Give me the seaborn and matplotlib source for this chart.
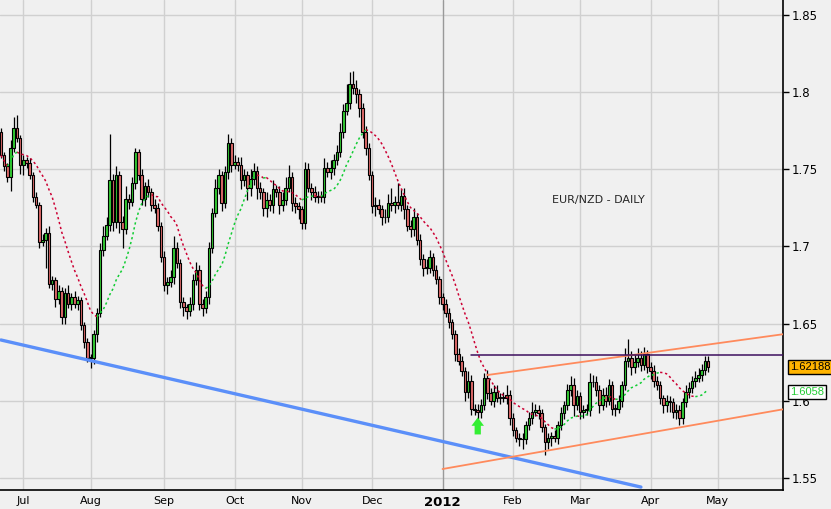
import numpy as np
import pandas as pd
import matplotlib.pyplot as plt
import matplotlib.transforms as mtransforms
from matplotlib.ticker import FixedLocator, FuncFormatter
import seaborn as sns

# ---- data (EUR/NZD daily, weekdays from 2011-06-22) ----
start_date = "2011-06-22"
axis_end_date = "2012-05-31"
first_open = 1.774

closes = [
    1.759, 1.752, 1.745, 1.764, 1.777, 1.770, 1.753, 1.756, 1.754, 1.746,
    1.732, 1.727, 1.703, 1.704, 1.709, 1.676, 1.678, 1.666, 1.671, 1.654,
    1.670, 1.663, 1.667, 1.663, 1.665, 1.649, 1.638, 1.628, 1.628, 1.643,
    1.657, 1.698, 1.707, 1.714, 1.743, 1.716, 1.746, 1.716, 1.711, 1.731,
    1.729, 1.741, 1.761, 1.746, 1.731, 1.739, 1.735, 1.727, 1.725, 1.713,
    1.693, 1.675, 1.677, 1.680, 1.699, 1.689, 1.664, 1.661, 1.658, 1.663,
    1.678, 1.685, 1.663, 1.660, 1.667, 1.699, 1.722, 1.738, 1.746, 1.728,
    1.748, 1.767, 1.753, 1.755, 1.753, 1.743, 1.746, 1.738, 1.744, 1.749,
    1.738, 1.735, 1.725, 1.730, 1.727, 1.737, 1.735, 1.727, 1.730, 1.738,
    1.745, 1.728, 1.726, 1.724, 1.715, 1.750, 1.738, 1.735, 1.732, 1.733,
    1.732, 1.751, 1.748, 1.751, 1.756, 1.761, 1.774, 1.788, 1.793, 1.805,
    1.803, 1.799, 1.790, 1.774, 1.764, 1.746, 1.726, 1.727, 1.724, 1.719,
    1.719, 1.728, 1.727, 1.729, 1.727, 1.733, 1.724, 1.713, 1.711, 1.719,
    1.704, 1.692, 1.686, 1.686, 1.693, 1.685, 1.679, 1.667, 1.663, 1.657,
    1.651, 1.643, 1.630, 1.626, 1.619, 1.606, 1.613, 1.595, 1.594, 1.593,
    1.597, 1.615, 1.605, 1.600, 1.606, 1.602, 1.602, 1.602, 1.604, 1.589,
    1.581, 1.576, 1.575, 1.575, 1.584, 1.589, 1.593, 1.594, 1.592, 1.583,
    1.573, 1.576, 1.577, 1.576, 1.584, 1.592, 1.597, 1.607, 1.610, 1.597,
    1.603, 1.593, 1.594, 1.594, 1.612, 1.612, 1.607, 1.597, 1.604, 1.600,
    1.610, 1.595, 1.595, 1.600, 1.610, 1.626, 1.628, 1.622, 1.625, 1.628,
    1.623, 1.630, 1.622, 1.619, 1.613, 1.610, 1.602, 1.597, 1.600, 1.599,
    1.593, 1.594, 1.589, 1.599, 1.606, 1.608, 1.613, 1.615, 1.617, 1.620,
    1.626, 1.62188,
]

upper_wicks = [
    0.003, 0.002, 0.002, 0.005, 0.007, 0.008, 0.002, 0.003, 0.002, 0.003,
    0.002, 0.003, 0.002, 0.004, 0.003, 0.004, 0.003, 0.002, 0.004, 0.003,
    0.003, 0.005, 0.003, 0.004, 0.003, 0.002, 0.002, 0.003, 0.002, 0.003,
    0.003, 0.004, 0.006, 0.005, 0.030, 0.004, 0.006, 0.003, 0.004, 0.008,
    0.003, 0.004, 0.003, 0.002, 0.004, 0.003, 0.005, 0.003, 0.004, 0.003,
    0.003, 0.004, 0.003, 0.005, 0.008, 0.004, 0.003, 0.003, 0.002, 0.004,
    0.004, 0.005, 0.003, 0.003, 0.004, 0.004, 0.003, 0.006, 0.004, 0.003,
    0.004, 0.006, 0.003, 0.004, 0.003, 0.005, 0.004, 0.003, 0.006, 0.005,
    0.003, 0.004, 0.003, 0.005, 0.004, 0.006, 0.003, 0.004, 0.005, 0.007,
    0.008, 0.003, 0.004, 0.003, 0.002, 0.005, 0.004, 0.003, 0.004, 0.003,
    0.003, 0.006, 0.004, 0.005, 0.004, 0.005, 0.006, 0.004, 0.012, 0.008,
    0.009, 0.005, 0.003, 0.003, 0.004, 0.003, 0.003, 0.005, 0.004, 0.003,
    0.005, 0.006, 0.010, 0.004, 0.012, 0.004, 0.005, 0.003, 0.004, 0.006,
    0.003, 0.004, 0.003, 0.006, 0.005, 0.003, 0.003, 0.002, 0.003, 0.003,
    0.003, 0.002, 0.003, 0.004, 0.003, 0.003, 0.006, 0.004, 0.003, 0.004,
    0.004, 0.003, 0.005, 0.003, 0.004, 0.004, 0.003, 0.004, 0.006, 0.003,
    0.003, 0.002, 0.003, 0.004, 0.003, 0.004, 0.006, 0.004, 0.003, 0.003,
    0.002, 0.003, 0.003, 0.004, 0.003, 0.004, 0.003, 0.004, 0.006, 0.005,
    0.004, 0.003, 0.003, 0.004, 0.006, 0.005, 0.004, 0.003, 0.004, 0.005,
    0.004, 0.003, 0.003, 0.004, 0.003, 0.008, 0.012, 0.004, 0.005, 0.006,
    0.004, 0.005, 0.003, 0.003, 0.004, 0.003, 0.003, 0.002, 0.004, 0.003,
    0.003, 0.004, 0.003, 0.003, 0.004, 0.004, 0.003, 0.004, 0.004, 0.004,
    0.003, 0.003,
]

lower_wicks = [
    0.002, 0.003, 0.003, 0.009, 0.003, 0.002, 0.006, 0.007, 0.003, 0.002,
    0.003, 0.002, 0.004, 0.003, 0.018, 0.003, 0.004, 0.005, 0.003, 0.004,
    0.004, 0.003, 0.004, 0.003, 0.004, 0.003, 0.004, 0.003, 0.007, 0.004,
    0.005, 0.003, 0.004, 0.003, 0.004, 0.006, 0.004, 0.007, 0.012, 0.003,
    0.005, 0.003, 0.004, 0.003, 0.004, 0.005, 0.003, 0.004, 0.003, 0.003,
    0.003, 0.004, 0.006, 0.003, 0.004, 0.003, 0.004, 0.006, 0.005, 0.003,
    0.004, 0.003, 0.004, 0.005, 0.003, 0.004, 0.003, 0.003, 0.004, 0.005,
    0.003, 0.004, 0.005, 0.003, 0.004, 0.006, 0.004, 0.008, 0.005, 0.004,
    0.007, 0.004, 0.005, 0.006, 0.004, 0.005, 0.003, 0.006, 0.004, 0.003,
    0.003, 0.005, 0.004, 0.006, 0.004, 0.004, 0.003, 0.005, 0.003, 0.004,
    0.003, 0.004, 0.003, 0.004, 0.005, 0.003, 0.003, 0.004, 0.003, 0.004,
    0.004, 0.006, 0.006, 0.004, 0.005, 0.003, 0.004, 0.006, 0.003, 0.005,
    0.004, 0.003, 0.004, 0.005, 0.003, 0.004, 0.006, 0.003, 0.005, 0.004,
    0.003, 0.004, 0.005, 0.004, 0.003, 0.004, 0.003, 0.004, 0.004, 0.003,
    0.004, 0.003, 0.004, 0.003, 0.003, 0.006, 0.004, 0.004, 0.003, 0.005,
    0.004, 0.003, 0.004, 0.003, 0.004, 0.003, 0.004, 0.003, 0.004, 0.005,
    0.004, 0.003, 0.004, 0.006, 0.003, 0.003, 0.004, 0.003, 0.004, 0.003,
    0.008, 0.004, 0.005, 0.003, 0.004, 0.003, 0.004, 0.003, 0.004, 0.007,
    0.003, 0.005, 0.004, 0.003, 0.004, 0.003, 0.004, 0.005, 0.003, 0.004,
    0.003, 0.004, 0.005, 0.003, 0.004, 0.003, 0.004, 0.005, 0.004, 0.003,
    0.004, 0.003, 0.004, 0.005, 0.004, 0.003, 0.004, 0.005, 0.004, 0.006,
    0.004, 0.005, 0.005, 0.004, 0.003, 0.004, 0.003, 0.004, 0.003, 0.004,
    0.003, 0.003,
]

ma_period = 14
last_price_text = "1.62188"
ma_text = "1.6058"
ma_last = 1.6058
chart_title = "EUR/NZD - DAILY"

# hand drawn lines on the chart (dates, prices)
support_dates = ["2011-06-22", "2012-03-28"]
support_prices = [1.6394, 1.5441]
channel_top_dates = ["2012-01-20", "2012-05-30"]
channel_top_prices = [1.6167, 1.6433]
channel_low_dates = ["2012-01-02", "2012-05-30"]
channel_low_prices = [1.5558, 1.5947]
resistance_dates = ["2012-01-13", "2012-05-30"]
resistance_price = 1.6297
arrow_date = "2012-01-17"
arrow_prices = [1.5782, 1.5892]

price_ticks = [1.55, 1.6, 1.65, 1.7, 1.75, 1.8, 1.85]

# ---- build frame ----
days = pd.bdate_range(start_date, axis_end_date)
pos = {d: i for i, d in enumerate(days)}
n = len(closes)
df = pd.DataFrame({"date": days[:n], "close": closes})
df["x"] = np.arange(n)
df["open"] = [first_open] + closes[:-1]
df["high"] = df[["open", "close"]].max(axis=1) + upper_wicks
df["low"] = df[["open", "close"]].min(axis=1) - lower_wicks
df["ma"] = df["close"].rolling(ma_period, min_periods=1).mean()


def xpos(dates):
    return [pos[pd.Timestamp(d)] for d in dates]


sns.set_style("white")
plt.rcParams["font.family"] = ["Liberation Sans Narrow", "DejaVu Sans"]
bg = "#f0f0f0"

fig = plt.figure(figsize=(8.31, 5.09), dpi=100, facecolor=bg)
ax = fig.add_axes([0, 19 / 509, 783 / 831, 490 / 509])
ax.set_facecolor(bg)

# month ticks
day_idx = pd.Series(np.arange(len(days)), index=days)
month_pos, month_lab = [], []
for (yr, mo), grp in day_idx.groupby([days.year, days.month]):
    if grp.index[0].day > 5:
        continue
    month_pos.append(grp.iloc[0])
    month_lab.append(str(yr) if mo == 1 else grp.index[0].strftime("%b"))

for p in price_ticks:
    ax.axhline(p, color="#d0d0d0", lw=1.0, zorder=0)
for mp, ml in zip(month_pos, month_lab):
    ax.axvline(mp, color="#999999" if ml == "2012" else "#d0d0d0", lw=1.0, zorder=0)

# candles
up = df["close"] >= df["open"]
colors = np.where(up, "#33cc33", "#e06a6a")
ax.vlines(df["x"], df["low"], df["high"], color="black", lw=0.9, zorder=3)
ax.bar(df["x"], (df["close"] - df["open"]).abs().clip(lower=0.0004),
       bottom=df[["open", "close"]].min(axis=1), width=0.82,
       color=colors, edgecolor="black", linewidth=0.8, zorder=4)

# moving average, green when rising, red when falling
ma = df["ma"].values
rising = np.r_[True, np.diff(ma) >= 0]
ma_up = np.where(rising | np.r_[rising[1:], True], ma, np.nan)
ma_dn = np.where(~rising | np.r_[~rising[1:], False], ma, np.nan)
ax.plot(df["x"], ma_dn, color="#cc0033", lw=1.1, ls=(0, (1.5, 1.8)), zorder=5)
ax.plot(df["x"], ma_up, color="#11cc33", lw=1.1, ls=(0, (1.5, 1.8)), zorder=5)

# trend lines
sns.lineplot(x=xpos(support_dates), y=support_prices, ax=ax, color="#5b8ff9",
             lw=2.4, zorder=6)
sns.lineplot(x=xpos(channel_top_dates), y=channel_top_prices, ax=ax,
             color="#ff8a5c", lw=1.3, zorder=6)
sns.lineplot(x=xpos(channel_low_dates), y=channel_low_prices, ax=ax,
             color="#ff8a5c", lw=1.3, zorder=6)
sns.lineplot(x=xpos(resistance_dates), y=[resistance_price] * 2, ax=ax,
             color="#3d0f5e", lw=1.1, zorder=6)

arrow_x = pos[pd.Timestamp(arrow_date)]
ax.annotate("", xy=(arrow_x, arrow_prices[1]), xytext=(arrow_x, arrow_prices[0]),
            arrowprops=dict(arrowstyle="simple,head_width=0.9,head_length=0.6,tail_width=0.45",
                            color="#33ee33", lw=0, shrinkA=0, shrinkB=0),
            zorder=7)

ax.text(0.764, 0.592, chart_title, transform=ax.transAxes, fontsize=8,
        family="DejaVu Sans", ha="center", va="center")

# axes
ax.set_xlim(-0.3, 244.4)
ax.set_ylim(1.5422, 1.8597)
for s in ["top", "left"]:
    ax.spines[s].set_visible(False)
for s in ["right", "bottom"]:
    ax.spines[s].set_color("black")
    ax.spines[s].set_linewidth(1.2)
ax.yaxis.tick_right()
ax.yaxis.set_major_locator(FixedLocator(price_ticks))
ax.yaxis.set_major_formatter(FuncFormatter(lambda v, _: f"{v:g}"))
ax.set_xticks(month_pos)
ax.set_xticklabels(month_lab)
ax.tick_params(axis="y", direction="out", length=4, width=1, colors="black",
               labelsize=8.5, pad=2)
ax.tick_params(axis="x", direction="out", length=3.5, width=1, colors="black",
               labelsize=8, pad=1)
for t in ax.get_xticklabels():
    if t.get_text() == "2012":
        t.set_fontweight("bold")
        t.set_fontsize(9.5)

# price boxes on the right
trans = mtransforms.blended_transform_factory(ax.transAxes, ax.transData)
ax.text(1.009, closes[-1], last_price_text, transform=trans, fontsize=8,
        family="Liberation Sans", va="center", ha="left", color="black", zorder=10,
        clip_on=False, bbox=dict(boxstyle="square,pad=0.18", fc="#ffb400", ec="black", lw=1))
ax.text(1.009, ma_last, ma_text, transform=trans, fontsize=8,
        family="Liberation Sans", va="center", ha="left", color="#22cc33", zorder=10,
        clip_on=False, bbox=dict(boxstyle="square,pad=0.18", fc="white", ec="black", lw=1))

fig.savefig("out.png", dpi=100, facecolor=bg)
